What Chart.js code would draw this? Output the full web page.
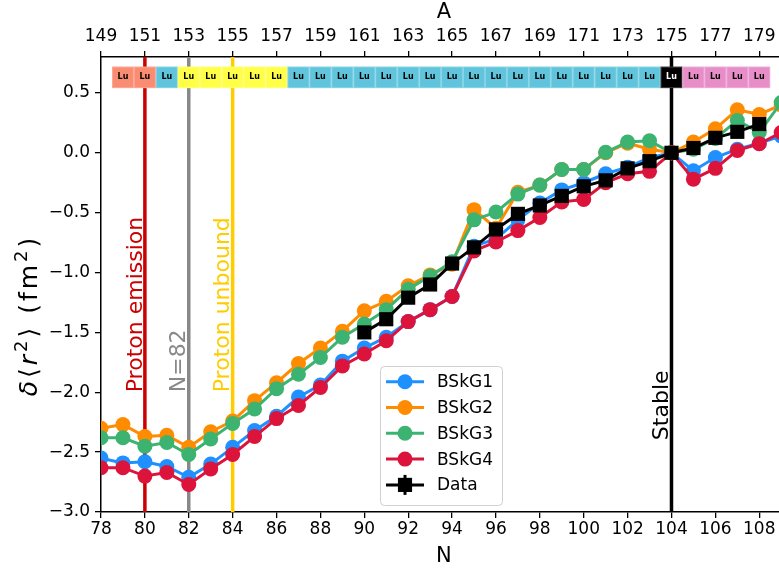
<!DOCTYPE html>
<html>
<head>
<meta charset="utf-8">
<script src="https://cdn.jsdelivr.net/npm/chart.js@4.4.0/dist/chart.umd.min.js"></script>
<style>
html,body{margin:0;padding:0;background:#fff;overflow:hidden}
canvas{display:block}
</style>
</head>
<body>
<canvas id="chart" width="779" height="571"></canvas>
<script>
// neutron number for the model curves (109 is cut off at the right edge)
const nModel=[78,79,80,81,82,83,84,85,86,87,88,89,90,91,92,93,94,95,96,97,98,99,100,101,102,103,104,105,106,107,108,109];
const bskg1=[-2.55,-2.59,-2.58,-2.62,-2.71,-2.60,-2.46,-2.32,-2.20,-2.04,-1.94,-1.74,-1.63,-1.54,-1.41,-1.31,-1.20,-0.78,-0.72,-0.56,-0.42,-0.31,-0.25,-0.175,-0.12,-0.04,0,-0.15,-0.04,0.03,0.08,0.14];
const bskg2=[-2.30,-2.27,-2.37,-2.36,-2.46,-2.33,-2.24,-2.07,-1.92,-1.76,-1.63,-1.49,-1.32,-1.24,-1.11,-1.02,-0.93,-0.475,-0.63,-0.33,-0.27,-0.14,-0.14,0.0,0.08,0.03,0,0.09,0.20,0.36,0.32,0.40];
const bskg3=[-2.38,-2.38,-2.45,-2.42,-2.52,-2.39,-2.26,-2.14,-1.97,-1.85,-1.71,-1.54,-1.43,-1.31,-1.14,-1.03,-0.91,-0.56,-0.495,-0.345,-0.27,-0.14,-0.14,0.005,0.09,0.10,0,0.03,0.12,0.27,0.17,0.42];
const bskg4=[-2.63,-2.63,-2.70,-2.67,-2.77,-2.64,-2.52,-2.37,-2.22,-2.11,-1.96,-1.78,-1.68,-1.57,-1.41,-1.31,-1.20,-0.82,-0.745,-0.65,-0.54,-0.41,-0.39,-0.25,-0.175,-0.155,0,-0.22,-0.13,0.02,0.075,0.17];

const nData=[90,91,92,93,94,95,96,97,98,99,100,101,102,103,104,105,106,107,108];
const dataVals=[-1.50,-1.39,-1.21,-1.10,-0.925,-0.79,-0.64,-0.51,-0.44,-0.36,-0.28,-0.23,-0.13,-0.07,0.0,0.04,0.125,0.175,0.24];

const xTicks=[78,80,82,84,86,88,90,92,94,96,98,100,102,104,106,108];
const aTicks=[149,151,153,155,157,159,161,163,165,167,169,171,173,175,177,179];
const yTicks=[-3.0,-2.5,-2.0,-1.5,-1.0,-0.5,0.0,0.5];

// Lu isotopes strip: decay mode per N
const boxN=[79,80,81,82,83,84,85,86,87,88,89,90,91,92,93,94,95,96,97,98,99,100,101,102,103,104,105,106,107,108];
const boxMode=['p','p','ec','a','a','a','a','a','ec','ec','ec','ec','ec','ec','ec','ec','ec','ec','ec','ec','ec','ec','ec','ec','ec','s','bm','bm','bm','bm'];
const modeColor={p:'#fa8c72',ec:'#5fc4dc',a:'#ffff48',s:'#000000',bm:'#e78ec8'};
const boxLow=0.54, boxHigh=0.72;

const markLines=[
  {n:80,color:'#cc0000',text:'Proton emission',y:-2.0},
  {n:82,color:'#888888',text:'N=82',y:-2.0},
  {n:84,color:'#ffcc00',text:'Proton unbound',y:-2.0},
  {n:104,color:'#000000',text:'Stable',y:-2.4}
];

const series=[
  {label:'BSkG1',vals:bskg1,color:'#1e90ff'},
  {label:'BSkG2',vals:bskg2,color:'#ff8c00'},
  {label:'BSkG3',vals:bskg3,color:'#3cb371'},
  {label:'BSkG4',vals:bskg4,color:'#dc143c'}
];

const FONT='"DejaVu Sans", sans-serif';
Chart.defaults.font.family=FONT;

function pts(ns,vs){return ns.map((n,i)=>({x:n,y:vs[i]}));}

let datasets=series.map((s,i)=>({
  label:s.label,data:pts(nModel,s.vals),
  borderColor:s.color,backgroundColor:s.color,
  pointBackgroundColor:s.color,pointBorderColor:s.color,
  borderWidth:3,pointRadius:7.5,pointBorderWidth:0,
  pointStyle:'circle',order:5-i
}));
datasets.push({
  label:'Data',data:pts(nData,dataVals),
  borderColor:'#000',backgroundColor:'#000',
  pointBackgroundColor:'#000',pointBorderColor:'#000',
  borderWidth:3,pointRadius:10,pointBorderWidth:0,
  pointStyle:'rect',order:0
});

function drawMark(ctx,style,cx,cy,color){
  ctx.fillStyle=color;
  if(style==='rect'){
    const h=10*Math.SQRT1_2;
    ctx.fillRect(cx-h,cy-h,2*h,2*h);
  }else{
    ctx.beginPath();ctx.arc(cx,cy,7.5,0,Math.PI*2);ctx.fill();
  }
}

const overlay={
  id:'overlay',
  beforeDatasetsDraw(chart){
    const {ctx,chartArea:a,scales:{x,y}}=chart;
    ctx.save();
    ctx.beginPath();ctx.rect(a.left,a.top,a.right-a.left,a.bottom-a.top);ctx.clip();
    markLines.forEach(m=>{
      const px=x.getPixelForValue(m.n);
      ctx.strokeStyle=m.color;ctx.lineWidth=3.5;
      ctx.beginPath();ctx.moveTo(px,a.top);ctx.lineTo(px,a.bottom);ctx.stroke();
      ctx.save();
      ctx.translate(x.getPixelForValue(m.n-0.15),y.getPixelForValue(m.y));
      ctx.rotate(-Math.PI/2);
      ctx.fillStyle=m.color;ctx.font='22px '+FONT;
      ctx.textAlign='left';ctx.textBaseline='alphabetic';
      ctx.fillText(m.text,0,0);
      ctx.restore();
    });
    boxN.forEach((n,i)=>{
      const x0=x.getPixelForValue(n-0.5),x1=x.getPixelForValue(n+0.5);
      const y0=y.getPixelForValue(boxHigh),y1=y.getPixelForValue(boxLow);
      ctx.fillStyle=modeColor[boxMode[i]];
      ctx.fillRect(x0,y0,x1-x0,y1-y0);
      ctx.strokeStyle='rgba(255,255,255,0.25)';ctx.lineWidth=1;
      ctx.strokeRect(x0+0.5,y0+0.5,x1-x0-1,y1-y0-1);
      ctx.fillStyle=boxMode[i]==='s'?'#fff':'#000';
      ctx.font='bold 8px '+FONT;ctx.textAlign='center';ctx.textBaseline='middle';
      ctx.fillText('Lu',(x0+x1)/2,(y0+y1)/2);
    });
    ctx.restore();
  },
  afterDraw(chart){
    const {ctx,chartArea:a,scales:{x}}=chart;
    ctx.save();
    // axis titles
    const midX=(a.left+x.getPixelForValue(109.25))/2;
    ctx.fillStyle='#000';ctx.font='21px '+FONT;
    ctx.textAlign='center';ctx.textBaseline='middle';
    ctx.fillText('N',midX,557);
    ctx.fillText('A',midX,13);
    // y label with superscripts, drawn glyph by glyph
    const segs=[{t:'δ',it:1},{t:'⟨'},{t:'r',it:1},{t:'2',sup:1},{t:'⟩'},{t:' (fm'},{t:'2',sup:1},{t:')'}];
    const fs=25, sp=3;
    const fontOf=s=>(s.it?'italic ':'')+(s.sup?Math.round(fs*0.7):fs)+'px '+FONT;
    const glyphs=[];
    segs.forEach(s=>{for(const ch of s.t){ctx.font=fontOf(s);glyphs.push({ch,s,w:ctx.measureText(ch).width+sp});}});
    const total=glyphs.reduce((t,g)=>t+g.w,0)-sp;
    ctx.translate(37,317);ctx.rotate(-Math.PI/2);
    ctx.textAlign='left';ctx.textBaseline='alphabetic';
    let cx=-total/2;
    glyphs.forEach(g=>{ctx.font=fontOf(g.s);ctx.fillText(g.ch,cx,g.s.sup?-fs*0.4:0);cx+=g.w;});
    ctx.restore();

    // legend
    ctx.save();
    const L=a.left+279,T=a.top+309,W=122,H=139;
    ctx.fillStyle='rgba(255,255,255,0.8)';ctx.strokeStyle='#d0d0d0';ctx.lineWidth=1;
    ctx.beginPath();ctx.roundRect(L+0.5,T+0.5,W,H,4);ctx.fill();ctx.stroke();
    const items=series.map(s=>({label:s.label,color:s.color,style:'circle'}));
    items.push({label:'Data',color:'#000',style:'rect',err:true});
    items.forEach((it,i)=>{
      const cy=T+15.7+i*25.8;
      ctx.strokeStyle=it.color;ctx.lineWidth=3;
      ctx.beginPath();ctx.moveTo(L+6,cy);ctx.lineTo(L+44,cy);ctx.stroke();
      if(it.err){ctx.beginPath();ctx.moveTo(L+25,cy-10);ctx.lineTo(L+25,cy+10);ctx.stroke();}
      drawMark(ctx,it.style,L+25,cy,it.color);
      ctx.fillStyle='#000';ctx.font='17px '+FONT;ctx.textAlign='left';ctx.textBaseline='middle';
      ctx.fillText(it.label,L+57,cy+1);
    });
    ctx.restore();
  }
};

const axisCommon={
  grid:{drawOnChartArea:false,color:'#000',tickLength:6,lineWidth:1.3},
  border:{color:'#000',width:1.5}
};
// keep the plot running to the right edge (the original figure is cropped there)
const noPad=s=>{s.paddingLeft=0;s.paddingRight=0;};

new Chart(document.getElementById('chart'),{
  type:'line',
  data:{datasets:datasets},
  options:{
    responsive:false,animation:false,devicePixelRatio:1,
    layout:{padding:0,autoPadding:false},
    plugins:{legend:{display:false},tooltip:{enabled:false}},
    scales:{
      x:{type:'linear',position:'bottom',min:78,max:108.9,
        afterBuildTicks:s=>{s.ticks=xTicks.map(v=>({value:v}));},
        afterFit:s=>{s.height=59;noPad(s);},
        ticks:{font:{size:17},color:'#000',padding:1,maxRotation:0,autoSkip:false,callback:v=>String(v)},
        ...axisCommon},
      x2:{type:'linear',position:'top',min:149,max:179.9,
        afterBuildTicks:s=>{s.ticks=aTicks.map(v=>({value:v}));},
        afterFit:s=>{s.height=57;noPad(s);},
        ticks:{font:{size:17},color:'#000',padding:4,maxRotation:0,autoSkip:false,callback:v=>String(v)},
        ...axisCommon},
      y:{type:'linear',position:'left',min:-3.0,max:0.8,
        afterBuildTicks:s=>{s.ticks=yTicks.map(v=>({value:v}));},
        afterFit:s=>{s.width=101;s.paddingTop=0;s.paddingBottom=0;},
        ticks:{font:{size:17},color:'#000',padding:5,autoSkip:false,callback:v=>v.toFixed(1).replace('-','−')},
        ...axisCommon}
    }
  },
  plugins:[overlay]
});
</script>
</body>
</html>
